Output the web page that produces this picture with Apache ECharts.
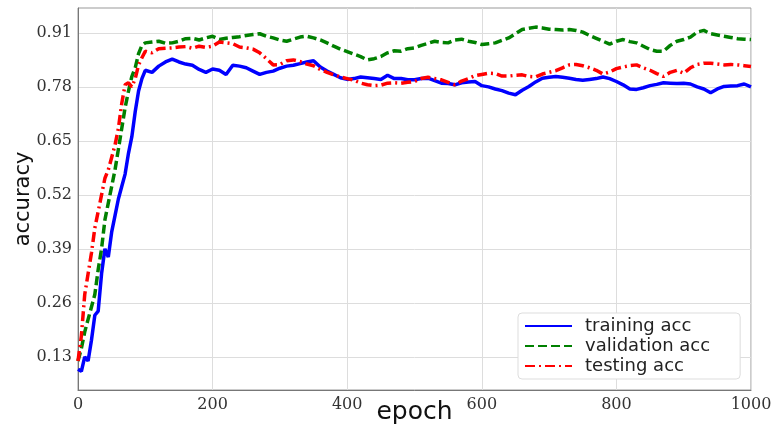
<!DOCTYPE html>
<html>
<head>
<meta charset="utf-8">
<script src="https://cdn.jsdelivr.net/npm/echarts@6/dist/echarts.min.js"></script>
<style>
  html, body { margin: 0; padding: 0; background: #fff; }
  #chart { width: 775px; height: 425px; }
</style>
</head>
<body>
<div id="chart"></div>
<script>
// epochs the curves were read at (fine steps during the ramp-up)
var epochs = [0, 5, 10, 15, 20, 25, 30, 35, 40, 45, 50, 55, 60, 65, 70, 75, 80, 85, 90, 95, 100,
  110, 120, 130, 140, 150, 160, 170, 180, 190, 200, 210, 220, 230, 240, 250, 260, 270, 280, 290, 300,
  310, 320, 330, 340, 350, 360, 370, 380, 390, 400, 410, 420, 430, 440, 450, 460, 470, 480, 490, 500,
  510, 520, 530, 540, 550, 560, 570, 580, 590, 600, 610, 620, 630, 640, 650, 660, 670, 680, 690, 700,
  710, 720, 730, 740, 750, 760, 770, 780, 790, 800, 810, 820, 830, 840, 850, 860, 870, 880, 890, 900,
  910, 920, 930, 940, 950, 960, 970, 980, 990, 1000];

var trainingAcc = [0.10, 0.095, 0.13, 0.12, 0.17, 0.23, 0.24, 0.33, 0.39, 0.37, 0.43, 0.47, 0.51, 0.54, 0.57, 0.62, 0.66, 0.72, 0.77, 0.80, 0.82,
  0.815, 0.83, 0.84, 0.847, 0.84, 0.835, 0.832, 0.822, 0.815, 0.823, 0.82, 0.81, 0.832, 0.83, 0.826, 0.818, 0.81, 0.815, 0.818, 0.825,
  0.83, 0.832, 0.836, 0.84, 0.843, 0.828, 0.818, 0.81, 0.802, 0.798, 0.80, 0.804, 0.802, 0.80, 0.798, 0.808, 0.80, 0.80, 0.797, 0.797,
  0.80, 0.801, 0.795, 0.789, 0.788, 0.785, 0.79, 0.792, 0.793, 0.783, 0.78, 0.775, 0.771, 0.765, 0.761, 0.772, 0.781, 0.792, 0.801, 0.803,
  0.805, 0.803, 0.801, 0.798, 0.796, 0.798, 0.80, 0.804, 0.80, 0.793, 0.785, 0.775, 0.774, 0.778, 0.783, 0.786, 0.79, 0.789, 0.788, 0.789,
  0.787, 0.78, 0.775, 0.766, 0.775, 0.781, 0.782, 0.783, 0.787, 0.78];

var validationAcc = [0.12, 0.15, 0.19, 0.22, 0.25, 0.28, 0.34, 0.39, 0.46, 0.50, 0.54, 0.58, 0.63, 0.68, 0.73, 0.77, 0.805, 0.826, 0.86, 0.88, 0.886,
  0.888, 0.89, 0.885, 0.886, 0.89, 0.896, 0.897, 0.893, 0.898, 0.902, 0.894, 0.897, 0.899, 0.901, 0.904, 0.906, 0.908, 0.902, 0.898, 0.893,
  0.89, 0.895, 0.90, 0.902, 0.898, 0.893, 0.886, 0.878, 0.871, 0.865, 0.859, 0.853, 0.845, 0.848, 0.853, 0.862, 0.867, 0.866, 0.872, 0.874,
  0.88, 0.885, 0.89, 0.887, 0.886, 0.893, 0.895, 0.89, 0.887, 0.882, 0.884, 0.886, 0.892, 0.898, 0.908, 0.918, 0.921, 0.924, 0.922, 0.919,
  0.918, 0.917, 0.918, 0.916, 0.912, 0.904, 0.897, 0.89, 0.883, 0.89, 0.894, 0.889, 0.886, 0.878, 0.87, 0.866, 0.866, 0.88, 0.89, 0.894,
  0.90, 0.912, 0.916, 0.908, 0.905, 0.902, 0.899, 0.896, 0.895, 0.894];

var testingAcc = [0.12, 0.18, 0.28, 0.33, 0.38, 0.44, 0.48, 0.52, 0.56, 0.58, 0.61, 0.64, 0.68, 0.74, 0.785, 0.79, 0.78, 0.80, 0.833, 0.85, 0.866,
  0.862, 0.872, 0.873, 0.874, 0.876, 0.877, 0.873, 0.878, 0.875, 0.878, 0.888, 0.886, 0.884, 0.876, 0.874, 0.871, 0.862, 0.848, 0.833, 0.834,
  0.843, 0.845, 0.841, 0.835, 0.831, 0.822, 0.815, 0.809, 0.804, 0.80, 0.796, 0.789, 0.785, 0.783, 0.784, 0.789, 0.79, 0.789, 0.791, 0.793,
  0.80, 0.803, 0.80, 0.797, 0.791, 0.785, 0.794, 0.80, 0.807, 0.81, 0.813, 0.812, 0.806, 0.806, 0.808, 0.809, 0.805, 0.804, 0.811, 0.815,
  0.819, 0.826, 0.833, 0.834, 0.831, 0.826, 0.82, 0.811, 0.816, 0.824, 0.828, 0.831, 0.833, 0.826, 0.82, 0.812, 0.805, 0.815, 0.82, 0.813,
  0.826, 0.834, 0.837, 0.837, 0.835, 0.833, 0.834, 0.833, 0.831, 0.829];

var yTicks = [0.13, 0.26, 0.39, 0.52, 0.65, 0.78, 0.91];

function pairs(vals) {
  return epochs.map(function (e, i) { return [e, vals[i]]; });
}

var chart = echarts.init(document.getElementById('chart'));

chart.setOption({
  animation: false,
  grid: {
    left: 78, right: 24, top: 8, bottom: 35,
    outerBoundsMode: 'none',
    containLabel: false,
    show: true,
    borderColor: '#999',
    borderWidth: 1
  },
  legend: {
    orient: 'vertical',
    left: 518,
    top: 313,
    padding: [4, 30, 4, 6],
    itemGap: 2,
    itemWidth: 47,
    itemHeight: 14,
    backgroundColor: '#fff',
    borderColor: '#ddd',
    borderWidth: 1,
    borderRadius: 4,
    itemStyle: { opacity: 0, borderWidth: 0 },
    textStyle: { fontFamily: 'DejaVu Sans', fontSize: 18, color: '#222', padding: [0, 0, 0, 8] },
    data: ['training acc', 'validation acc', 'testing acc']
  },
  xAxis: {
    type: 'value',
    min: 0,
    max: 1000,
    interval: 200,
    name: 'epoch',
    nameLocation: 'middle',
    nameGap: 22,
    nameMoveOverlap: false,
    nameTextStyle: { fontFamily: 'DejaVu Sans', fontSize: 25, color: '#111', verticalAlign: 'middle' },
    axisLine: { lineStyle: { color: '#777' } },
    axisTick: { show: false },
    axisLabel: {
      fontFamily: 'DejaVu Serif', fontSize: 16, color: '#333', margin: 7,
      formatter: function (v) { return String(v); }
    },
    splitLine: { lineStyle: { color: '#ddd' } }
  },
  yAxis: {
    type: 'value',
    min: 0.05,
    max: 0.97,
    name: 'accuracy',
    nameLocation: 'middle',
    nameRotate: 90,
    nameGap: 44,
    nameMoveOverlap: false,
    nameTextStyle: { fontFamily: 'DejaVu Sans', fontSize: 21, color: '#111' },
    axisLine: { show: true, lineStyle: { color: '#777' } },
    axisTick: { show: false, customValues: yTicks },
    axisLabel: {
      customValues: yTicks,
      fontFamily: 'DejaVu Serif', fontSize: 16, color: '#333', margin: 6,
      formatter: function (v) { return v.toFixed(2); }
    },
    splitLine: { lineStyle: { color: '#ddd' } }
  },
  series: [
    {
      name: 'training acc',
      type: 'line',
      data: pairs(trainingAcc),
      showSymbol: false,
      symbol: 'none',
      color: '#0000ff',
      lineStyle: { width: 3.5, color: '#0000ff' }
    },
    {
      name: 'validation acc',
      type: 'line',
      data: pairs(validationAcc),
      showSymbol: false,
      symbol: 'none',
      color: '#008000',
      lineStyle: { width: 3.5, color: '#008000', type: [9, 4] }
    },
    {
      name: 'testing acc',
      type: 'line',
      data: pairs(testingAcc),
      showSymbol: false,
      symbol: 'none',
      color: '#ff0000',
      lineStyle: { width: 3.5, color: '#ff0000', type: [10, 4, 2, 4] }
    }
  ]
});
</script>
</body>
</html>
